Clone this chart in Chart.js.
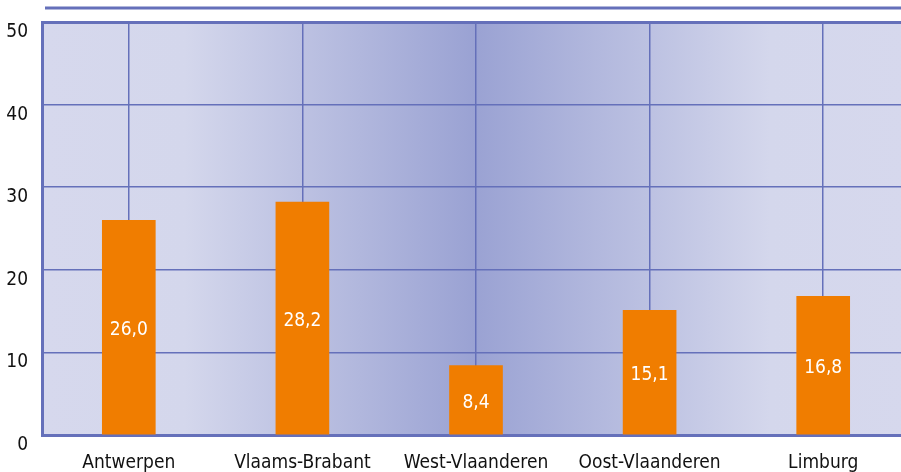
<!DOCTYPE html>
<html>
<head>
<meta charset="utf-8">
<script src="https://cdn.jsdelivr.net/npm/chart.js@4"></script>
<style>
  html, body { margin: 0; padding: 0; overflow: hidden; background: #fff; }
  #wrap { width: 901px; height: 472px; overflow: hidden; }
</style>
</head>
<body>
<div id="wrap"><canvas id="chart" width="910" height="472"></canvas></div>
<script>
// data
const provinces = ['Antwerpen', 'Vlaams-Brabant', 'West-Vlaanderen', 'Oost-Vlaanderen', 'Limburg'];
const values = [26.0, 28.2, 8.4, 15.1, 16.8];
const yTicks = [0, 10, 20, 30, 40, 50];

const FONT = '"Liberation Sans Narrow", "DejaVu Sans Condensed", "Roboto", sans-serif';
const lineCol = '#6570ba';

// gradient background inside the plot
const bgPlugin = {
    id: 'bgGradient',
    beforeDraw(chart) {
        const { ctx, chartArea: a } = chart;
        const w = a.right - a.left;
        const g = ctx.createLinearGradient(a.left, 0, a.right, 0);
        const stop = px => Math.min(1, Math.max(0, (px - a.left) / w));
        g.addColorStop(0, '#d6d8ed');
        g.addColorStop(stop(185), '#d4d7ec');
        g.addColorStop(stop(475), '#9aa2d3');
        g.addColorStop(stop(770), '#d4d7ec');
        g.addColorStop(1, '#d6d8ed');
        ctx.save();
        ctx.fillStyle = g;
        ctx.fillRect(a.left, a.top, w, a.bottom - a.top);
        ctx.restore();
    },
    afterDraw(chart) {
        // decorative line above the plot
        const { ctx, chartArea: a } = chart;
        ctx.save();
        ctx.strokeStyle = lineCol;
        ctx.lineWidth = 3;
        ctx.beginPath();
        ctx.moveTo(a.left + 3, 8);
        ctx.lineTo(chart.width, 8);
        ctx.stroke();
        ctx.restore();
    }
};

// values written inside the bars
const labelPlugin = {
    id: 'barLabels',
    afterDatasetsDraw(chart) {
        const { ctx } = chart;
        const meta = chart.getDatasetMeta(0);
        ctx.save();
        ctx.fillStyle = '#ffffff';
        ctx.font = '19px ' + FONT;
        ctx.textAlign = 'center';
        ctx.textBaseline = 'middle';
        meta.data.forEach((bar, i) => {
            const y = (bar.y + bar.base) / 2 + 3;
            ctx.fillText(values[i].toFixed(1).replace('.', ','), bar.x, y);
        });
        ctx.restore();
    }
};

new Chart(document.getElementById('chart'), {
    type: 'bar',
    data: {
        labels: provinces,
        datasets: [{
            data: values,
            backgroundColor: '#f07d00',
            barThickness: 53
        }]
    },
    options: {
        responsive: false,
        animation: false,
        layout: { padding: { top: 22, right: 0, left: 0, bottom: 0 } },
        plugins: {
            legend: { display: false },
            tooltip: { enabled: false }
        },
        scales: {
            x: {
                grid: { offset: false, color: lineCol, lineWidth: 1.5, drawTicks: false },
                border: { color: lineCol, width: 3 },
                ticks: { color: '#111', font: { family: FONT, size: 19 }, padding: 17, maxRotation: 0 },
                afterFit(s) { s.height = 37; }
            },
            y: {
                min: 0,
                max: 50,
                afterBuildTicks(s) { s.ticks = yTicks.map(v => ({ value: v })); },
                grid: {
                    color: lineCol,
                    drawTicks: false,
                    lineWidth: c => (c.tick && c.tick.value === 50 ? 3 : 1.5)
                },
                border: { color: lineCol, width: 3 },
                ticks: { color: '#111', font: { family: FONT, size: 19 }, padding: 14, labelOffset: 10 },
                afterFit(s) { s.width = 42; s.paddingTop = 0; s.paddingBottom = 0; }
            }
        }
    },
    plugins: [bgPlugin, labelPlugin]
});
</script>
</body>
</html>
